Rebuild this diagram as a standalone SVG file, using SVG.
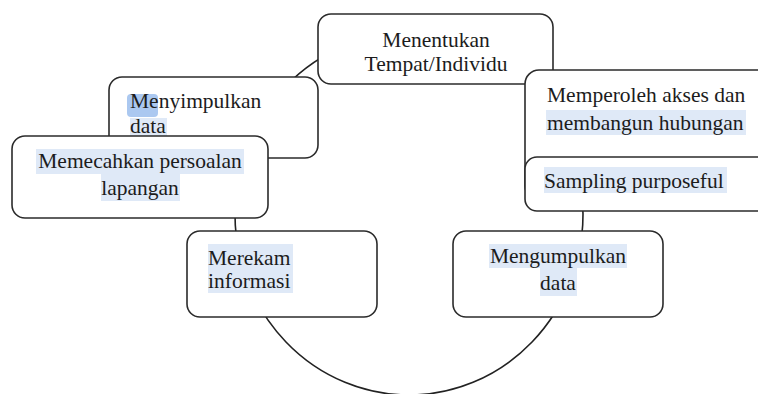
<svg xmlns="http://www.w3.org/2000/svg" width="758" height="394" viewBox="0 0 758 394">
<style>
.box{fill:#ffffff;stroke:#2b2b2b;stroke-width:1.6}
.cyc{fill:none;stroke:#222;stroke-width:1.6}
text{font-family:'Liberation Serif','Times New Roman',Times,serif;font-size:21.5px;fill:#1c1c1c}
.c{text-anchor:middle}
.hl{fill:#dfe9f7}
.hl2{fill:#abc8f0}
</style>
<rect width="758" height="394" fill="#ffffff"/>
<g id="connectors">
<ellipse class="cyc" cx="409" cy="214" rx="174" ry="181"/>
</g>
<g id="node-menyimpulkan">
<rect class="box" x="109" y="77" width="209" height="81" rx="13"/>
<rect class="hl2" x="127" y="94" width="31" height="23" rx="4"/>
<rect class="hl" x="130" y="118" width="37" height="24"/>
<text x="130" y="108">Menyimpulkan</text>
<text x="130" y="133">data</text>
</g>
<g id="node-memecahkan">
<rect class="box" x="12" y="136" width="256" height="82" rx="13"/>
<rect class="hl" x="36" y="149" width="208" height="25"/>
<rect class="hl" x="101" y="174" width="79" height="27"/>
<text class="c" x="140" y="168">Memecahkan persoalan</text>
<text class="c" x="140" y="195">lapangan</text>
</g>
<g id="node-menentukan">
<rect class="box" x="318" y="14" width="235" height="70" rx="13"/>
<text class="c" x="436" y="47">Menentukan</text>
<text class="c" x="436" y="71">Tempat/Individu</text>
</g>
<g id="node-memperoleh">
<rect class="box" x="525" y="70" width="260" height="130" rx="14"/>
<rect class="hl" x="546" y="110" width="200" height="25"/>
<text x="547" y="102">Memperoleh akses dan</text>
<text x="547" y="130">membangun hubungan</text>
</g>
<g id="node-sampling">
<rect class="box" x="525" y="157" width="260" height="54" rx="12"/>
<rect class="hl" x="544" y="167" width="183" height="26"/>
<text x="544" y="188">Sampling purposeful</text>
</g>
<g id="node-mengumpulkan">
<rect class="box" x="453" y="231" width="210" height="86" rx="13"/>
<rect class="hl" x="489" y="244" width="138" height="24"/>
<rect class="hl" x="540" y="268" width="37" height="28"/>
<text class="c" x="558" y="263">Mengumpulkan</text>
<text class="c" x="558" y="290">data</text>
</g>
<g id="node-merekam">
<rect class="box" x="187" y="231" width="190" height="86" rx="13"/>
<rect class="hl" x="208" y="244" width="85" height="49"/>
<text x="208" y="265">Merekam</text>
<text x="208" y="288">informasi</text>
</g>
</svg>
